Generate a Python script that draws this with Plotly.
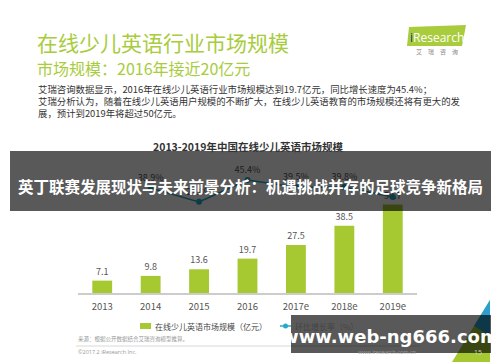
import plotly.graph_objects as go

W, H = 500, 362

years = ["2013", "2014", "2015", "2016", "2017e", "2018e", "2019e"]
market_size = [7.1, 9.8, 13.6, 19.7, 27.5, 38.5, 50.7]
growth_rate = [None, 38.9, 27.8, 45.4, 39.5, 39.8, 31.7]
growth_labels = ["", "38.9%", "27.8%", "45.4%", "39.5%", "39.8%", ""]

bar_name = "在线少儿英语市场规模（亿元）"
line_name = "环比增长率（%）"

GREEN = "#a6c932"
TEAL = "#27a9c9"
CJK = "Noto Sans CJK SC"


def px(x):
    return x / W


def py(y):
    return 1 - y / H


fig = go.Figure()
fig.add_trace(go.Bar(
    x=years, y=market_size, name=bar_name,
    marker=dict(color=GREEN, line=dict(width=0)),
    text=[str(v) for v in market_size], textposition="outside",
    textfont=dict(size=9, color="#555555", family=CJK),
    cliponaxis=False, showlegend=False,
))
fig.add_trace(go.Scatter(
    x=years, y=growth_rate, name=line_name, yaxis="y2",
    mode="lines+markers+text",
    line=dict(color=TEAL, width=1.5),
    marker=dict(color=TEAL, size=6),
    text=growth_labels, textposition="top center",
    textfont=dict(size=9, color="#555555", family=CJK),
    cliponaxis=False, showlegend=False,
))

anns = []


def txt(x, y, s, size, color, bold=False, xanchor="left", family=CJK):
    anns.append(dict(
        x=px(x), y=py(y), xref="paper", yref="paper", text=("<b>%s</b>" % s) if bold else s,
        showarrow=False, xanchor=xanchor, yanchor="middle",
        font=dict(size=size, color=color, family=family),
    ))


# Headline texts
txt(35, 42, "在线少儿英语行业市场规模", 21, "#a8cc3c")
txt(35, 68, "市场规模：2016年接近20亿元", 16, "#a8cc3c")
txt(36, 89, "艾瑞咨询数据显示，2016年在线少儿英语行业市场规模达到19.7亿元，同比增长速度为45.4%；", 9.4, "#333333")
txt(36, 101, "艾瑞分析认为，随着在线少儿英语用户规模的不断扩大，在线少儿英语教育的市场规模还将有更大的发", 9.4, "#333333")
txt(36, 113, "展，预计到2019年将超过50亿元。", 9.4, "#333333")

# chart title
txt(248, 146, "2013-2019年中国在线少儿英语市场规模", 10.5, "#333333", bold=True, xanchor="center")

# logo
txt(437, 37, "<span style='color:#1b3a6b'>i</span>Research", 12, "#ffffff", xanchor="center", family="Open Sans")
txt(437, 51, "艾　瑞　咨　询", 6, "#888888", xanchor="center")

# legend (drawn manually)
txt(153, 326, bar_name, 8, "#444444")
txt(293, 326, line_name, 8, "#444444")

# footer
txt(76, 339, "来源：根据公开数据结合艾瑞咨询模型推算。", 5.5, "#999999")
txt(76, 352, "©2017.2 iResearch Inc.", 5.5, "#999999", family="Open Sans")
txt(418, 352, "www.iresearch.com.cn", 5.5, "#999999", xanchor="right", family="Open Sans")
txt(478, 352, "15", 7, "#cccccc", xanchor="center", family="Open Sans")

# overlay texts
txt(250, 186, "英丁联赛发展现状与未来前景分析：机遇挑战并存的足球竞争新格局", 15.5, "#ffffff", bold=True, xanchor="center")
txt(390, 336, "www.web-ng666.com", 18, "#ffffff", bold=True, xanchor="center", family="DejaVu Sans")

shapes = [
    # logo green parallelogram
    dict(type="path", xref="paper", yref="paper",
         path="M %f %f L %f %f L %f %f L %f %f Z" % (px(409), py(27), px(466), py(25), px(462), py(46), px(407), py(46)),
         fillcolor="#a8cc3c", line=dict(width=0), layer="below"),
    # legend symbols
    dict(type="rect", xref="paper", yref="paper", x0=px(140), x1=px(151), y0=py(329), y1=py(323),
         fillcolor=GREEN, line=dict(width=0)),
    dict(type="line", xref="paper", yref="paper", x0=px(280), x1=px(291), y0=py(326), y1=py(326),
         line=dict(color=TEAL, width=1.5)),
    dict(type="circle", xref="paper", yref="paper", x0=px(283), x1=px(288), y0=py(328.5), y1=py(323.5),
         fillcolor=TEAL, line=dict(width=0)),
    # footer separator
    dict(type="line", xref="paper", yref="paper", x0=px(76), x1=px(420), y0=py(346), y1=py(346),
         line=dict(color="#d8d8d8", width=1)),
    # corner decoration
    dict(type="path", xref="paper", yref="paper",
         path="M %f %f L %f %f L %f %f Z" % (px(452), py(362), px(490), py(300), px(490), py(362)),
         fillcolor=GREEN, line=dict(width=0)),
    dict(type="path", xref="paper", yref="paper",
         path="M %f %f L %f %f L %f %f Z" % (px(474), py(326), px(490), py(300), px(490), py(336)),
         fillcolor="#2a9fd0", line=dict(width=0)),
    # overlays
    dict(type="rect", xref="paper", yref="paper", x0=px(10), x1=px(491), y0=py(151), y1=py(211),
         fillcolor="rgba(0,0,0,0.65)", line=dict(width=0), layer="above"),
    dict(type="rect", xref="paper", yref="paper", x0=px(291), x1=px(491), y0=py(315), y1=py(353),
         fillcolor="rgba(0,0,0,0.65)", line=dict(width=0), layer="above"),
]

fig.update_layout(
    width=W, height=H,
    margin=dict(l=0, r=0, t=0, b=0),
    paper_bgcolor="#ffffff", plot_bgcolor="#ffffff",
    bargap=0.59,
    showlegend=False,
    xaxis=dict(domain=[px(78), px(417)], showline=True, linecolor="#cccccc", linewidth=1.5,
               ticks="", showgrid=False, zeroline=False, ticklabelstandoff=4,
               tickfont=dict(size=9.5, color="#555555", family=CJK), fixedrange=True),
    yaxis=dict(domain=[py(293), py(140)], range=[0, 87.7], visible=False, showgrid=False,
               zeroline=False, fixedrange=True),
    yaxis2=dict(overlaying="y", range=[-45.7, 77.7], visible=False, showgrid=False,
                zeroline=False, fixedrange=True),
    annotations=anns,
    shapes=shapes,
)

fig.write_html("out.html", config={"displayModeBar": False},
               post_script="document.body.style.margin='0';document.body.style.overflow='hidden';")
